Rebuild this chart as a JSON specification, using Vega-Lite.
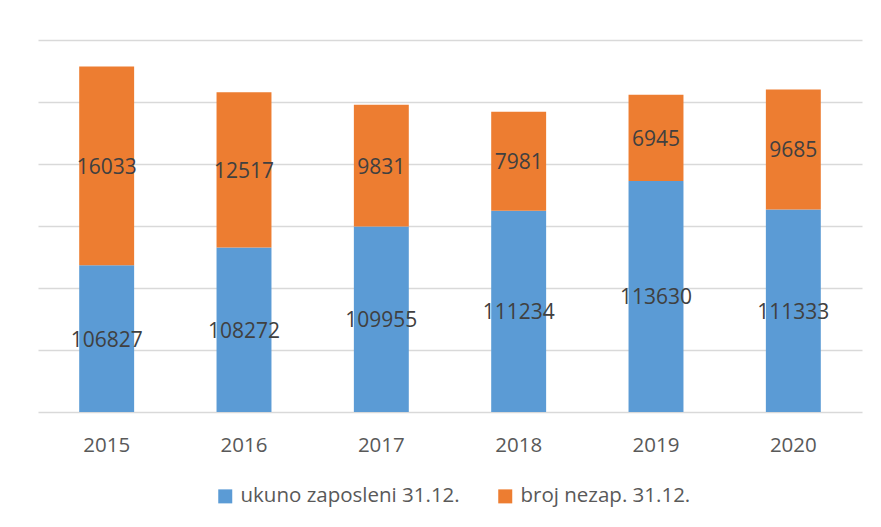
{
  "$schema": "https://vega.github.io/schema/vega-lite/v6.json",
  "width": 824,
  "height": 372,
  "autosize": {"type": "none"},
  "padding": {"left": 38, "top": 40, "right": 19, "bottom": 115},
  "background": "white",
  "config": {"view": {"stroke": null}, "font": "Open Sans"},
  "data": {
    "values": [
      {"year": "2015", "series": "ukuno zaposleni 31.12.", "value": 106827},
      {"year": "2015", "series": "broj nezap. 31.12.", "value": 16033},
      {"year": "2016", "series": "ukuno zaposleni 31.12.", "value": 108272},
      {"year": "2016", "series": "broj nezap. 31.12.", "value": 12517},
      {"year": "2017", "series": "ukuno zaposleni 31.12.", "value": 109955},
      {"year": "2017", "series": "broj nezap. 31.12.", "value": 9831},
      {"year": "2018", "series": "ukuno zaposleni 31.12.", "value": 111234},
      {"year": "2018", "series": "broj nezap. 31.12.", "value": 7981},
      {"year": "2019", "series": "ukuno zaposleni 31.12.", "value": 113630},
      {"year": "2019", "series": "broj nezap. 31.12.", "value": 6945},
      {"year": "2020", "series": "ukuno zaposleni 31.12.", "value": 111333},
      {"year": "2020", "series": "broj nezap. 31.12.", "value": 9685}
    ]
  },
  "transform": [
    {"stack": "value", "groupby": ["year"], "sort": [{"field": "series", "order": "descending"}], "as": ["v0", "v1"]},
    {"calculate": "(max(datum.v0, 95000) + datum.v1) / 2", "as": "mid"}
  ],
  "encoding": {
    "x": {
      "field": "year",
      "type": "ordinal",
      "scale": {"paddingInner": 0.6, "paddingOuter": 0.3},
      "axis": {
        "title": null,
        "domain": false,
        "ticks": false,
        "grid": false,
        "labelAngle": 0,
        "labelFont": "Open Sans",
        "labelFontSize": 20.5,
        "labelColor": "#595959",
        "labelPadding": 23
      }
    }
  },
  "layer": [
    {
      "mark": {"type": "bar", "clip": true},
      "encoding": {
        "y": {
          "field": "v1",
          "type": "quantitative",
          "scale": {"domain": [95000, 125000], "nice": false, "zero": false},
          "axis": {
            "title": null,
            "labels": false,
            "ticks": false,
            "domain": false,
            "values": [95000, 100000, 105000, 110000, 115000, 120000, 125000],
            "gridColor": "#d9d9d9",
            "gridWidth": 1.5
          }
        },
        "y2": {"field": "v0"},
        "color": {
          "field": "series",
          "type": "nominal",
          "scale": {
            "domain": ["ukuno zaposleni 31.12.", "broj nezap. 31.12."],
            "range": ["#5B9BD5", "#ED7D31"]
          },
          "legend": {
            "title": null,
            "orient": "none",
            "direction": "horizontal",
            "legendX": 177,
            "legendY": 446,
            "symbolType": "square",
            "symbolSize": 196,
            "symbolStrokeWidth": 0,
            "labelFont": "Open Sans",
            "labelFontSize": 20.5,
            "labelColor": "#595959",
            "labelOffset": 5,
            "columnPadding": 35,
            "labelLimit": 400
          }
        }
      }
    },
    {
      "mark": {"type": "text", "fontSize": 21, "font": "Open Sans", "color": "#404040", "baseline": "middle", "dy": 2},
      "encoding": {
        "y": {"field": "mid", "type": "quantitative"},
        "text": {"field": "value", "type": "quantitative", "format": "d"}
      }
    }
  ]
}
